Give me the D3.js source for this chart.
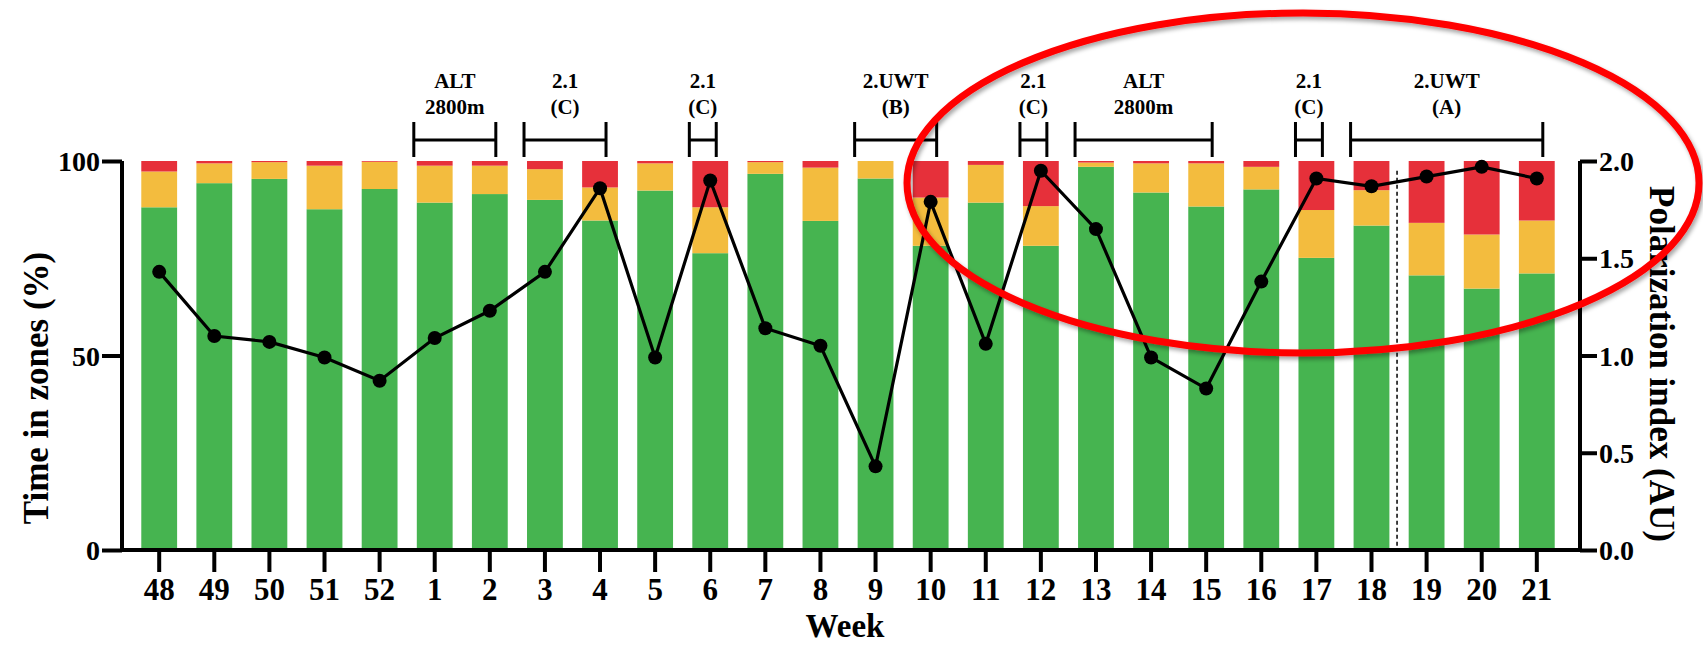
<!DOCTYPE html>
<html>
<head>
<meta charset="utf-8">
<script src="https://cdn.jsdelivr.net/npm/d3@7"></script>
<style>
  html, body { margin: 0; padding: 0; background: #fff; }
  svg { display: block; font-family: "Liberation Serif", "Times New Roman", serif; font-weight: bold; }
</style>
</head>
<body>
<div id="chart"></div>
<script>
// weeks on the x axis
var weeks = ["48", "49", "50", "51", "52", "1", "2", "3", "4", "5", "6", "7", "8", "9", "10",
  "11", "12", "13", "14", "15", "16", "17", "18", "19", "20", "21"];

// time in zones (%), stacked from the bottom
var zoneLow = [88.1, 94.3, 95.4, 87.6, 92.8, 89.3, 91.5, 90.0, 84.7, 92.4, 76.3, 96.7, 84.6,
  95.5, 78.2, 89.3, 78.2, 98.5, 91.9, 88.3, 92.7, 75.1, 83.4, 70.6, 67.2, 71.1];
var zoneMid = [9.2, 5.1, 4.3, 11.2, 7.0, 9.5, 7.3, 7.9, 8.5, 7.0, 11.8, 3.0, 13.7,
  4.5, 12.4, 9.7, 10.2, 1.1, 7.5, 11.1, 5.8, 12.3, 9.1, 13.5, 13.9, 13.6];
var zoneHigh = [2.7, 0.6, 0.3, 1.2, 0.2, 1.2, 1.2, 2.1, 6.8, 0.6, 11.9, 0.3, 1.7,
  0.0, 9.4, 1.0, 11.6, 0.4, 0.6, 0.6, 1.5, 12.6, 7.5, 15.9, 18.9, 15.3];

// polarization index (AU), right axis
var polarization = [1.43, 1.10, 1.07, 0.99, 0.87, 1.09, 1.23, 1.43, 1.86, 0.99, 1.90, 1.14, 1.05,
  0.43, 1.79, 1.06, 1.95, 1.65, 0.99, 0.83, 1.38, 1.91, 1.87, 1.92, 1.97, 1.91];

var leftTicks = [0, 50, 100];
var rightTicks = [0, 0.5, 1.0, 1.5, 2.0];

// training blocks above the bars
var blockTop = ["ALT", "2.1", "2.1", "2.UWT", "2.1", "ALT", "2.1", "2.UWT"];
var blockBottom = ["2800m", "(C)", "(C)", "(B)", "(C)", "2800m", "(C)", "(A)"];
var blockFrom = ["1", "3", "6", "9", "12", "13", "17", "18"];
var blockTo = ["2", "4", "6", "10", "12", "15", "17", "21"];

var dividerAfter = "18";

var colors = { low: "#46b450", mid: "#f3bc3e", high: "#e6303a" };

var width = 1703, height = 648;
var plotLeft = 122, plotRight = 1580, plotTop = 161, plotBottom = 550;

var svg = d3.select("#chart").append("svg")
  .attr("width", width).attr("height", height);

var x = d3.scaleBand().domain(weeks).range([plotLeft, 1574]).paddingInner(0.35).paddingOuter(0.35);
var y = d3.scaleLinear().domain([0, 100]).range([plotBottom, plotTop]);
var y2 = d3.scaleLinear().domain([0, 2]).range([plotBottom, plotTop]);

var rows = weeks.map(function (w, i) {
  return { week: w, low: zoneLow[i], mid: zoneMid[i], high: zoneHigh[i], pi: polarization[i] };
});

var stack = d3.stack().keys(["low", "mid", "high"]);
var layers = stack(rows);

svg.append("g").selectAll("g").data(layers).join("g")
  .attr("fill", function (d) { return colors[d.key]; })
  .selectAll("rect").data(function (d) { return d; }).join("rect")
  .attr("x", function (d) { return x(d.data.week); })
  .attr("width", x.bandwidth())
  .attr("y", function (d) { return y(d[1]); })
  .attr("height", function (d) { return y(d[0]) - y(d[1]); });

// dashed divider between weeks 18 and 19
var gap = x.step() - x.bandwidth();
var divX = x(dividerAfter) + x.bandwidth() + gap / 2 - 2;
svg.append("line")
  .attr("x1", divX).attr("x2", divX)
  .attr("y1", y(97.5)).attr("y2", plotBottom)
  .attr("stroke", "#111").attr("stroke-width", 1.6)
  .attr("stroke-dasharray", "4,3");

// polarization line
var line = d3.line()
  .x(function (d) { return x(d.week) + x.bandwidth() / 2; })
  .y(function (d) { return y2(d.pi); });

svg.append("path").datum(rows)
  .attr("fill", "none").attr("stroke", "#000").attr("stroke-width", 3.2)
  .attr("d", line);

svg.append("g").selectAll("circle").data(rows).join("circle")
  .attr("cx", function (d) { return x(d.week) + x.bandwidth() / 2; })
  .attr("cy", function (d) { return y2(d.pi); })
  .attr("r", 7)
  .attr("fill", "#000");

// axes
var axisLeft = svg.append("g")
  .attr("transform", "translate(" + plotLeft + ",0)")
  .call(d3.axisLeft(y).tickValues(leftTicks).tickSize(20).tickSizeOuter(0).tickPadding(2));

var axisRight = svg.append("g")
  .attr("transform", "translate(" + plotRight + ",0)")
  .call(d3.axisRight(y2).tickValues(rightTicks).tickSize(17).tickSizeOuter(0).tickPadding(2)
    .tickFormat(d3.format(".1f")));

var axisBottom = svg.append("g")
  .attr("transform", "translate(0," + plotBottom + ")")
  .call(d3.axisBottom(x).tickSize(22).tickSizeOuter(0).tickPadding(6));

[axisLeft, axisRight, axisBottom].forEach(function (g) {
  g.select(".domain").remove();
  g.selectAll(".tick line").attr("stroke", "#000").attr("stroke-width", 4);
  g.selectAll("text").attr("fill", "#000")
    .style("font-family", "'Liberation Serif', serif").style("font-weight", "bold");
});
axisLeft.selectAll("text").style("font-size", "28px").attr("dy", "0.34em");
axisRight.selectAll("text").style("font-size", "28px").attr("dy", "0.34em");
axisBottom.selectAll("text").style("font-size", "31px");

// axis lines
svg.append("path")
  .attr("d", "M" + plotLeft + "," + plotTop + "V" + plotBottom + "H" + plotRight + "V" + plotTop)
  .attr("fill", "none").attr("stroke", "#000").attr("stroke-width", 4)
  .attr("stroke-linejoin", "miter");

// titles
svg.append("text")
  .attr("transform", "translate(48,388) rotate(-90)")
  .attr("text-anchor", "middle")
  .style("font-size", "35px")
  .text("Time in zones (%)");

svg.append("text")
  .attr("transform", "translate(1650,364) rotate(90)")
  .attr("text-anchor", "middle")
  .style("font-size", "35px")
  .text("Polarization index (AU)");

svg.append("text")
  .attr("x", 845).attr("y", 637)
  .attr("text-anchor", "middle")
  .style("font-size", "33px")
  .text("Week");

// block brackets
var blocks = blockTop.map(function (t, i) {
  return { top: t, bottom: blockBottom[i], from: blockFrom[i], to: blockTo[i] };
});

var blockG = svg.append("g").selectAll("g").data(blocks).join("g");

blockG.each(function (d) {
  var g = d3.select(this);
  var x1 = x(d.from) - 3;
  var x2 = x(d.to) + x.bandwidth() / 2 + 6;
  var mid = (x1 + x2) / 2;
  g.append("path")
    .attr("d", "M" + x1 + ",122V157M" + x1 + ",140H" + x2 + "M" + x2 + ",122V157")
    .attr("fill", "none").attr("stroke", "#000").attr("stroke-width", 3);
  g.append("text").attr("x", mid).attr("y", 88)
    .attr("text-anchor", "middle").style("font-size", "21px").text(d.top);
  g.append("text").attr("x", mid).attr("y", 114)
    .attr("text-anchor", "middle").style("font-size", "21px").text(d.bottom);
});

// red highlight ellipse
var defs = svg.append("defs");
var shadow = defs.append("filter").attr("id", "shadow")
  .attr("x", "-10%").attr("y", "-10%").attr("width", "120%").attr("height", "120%");
shadow.append("feDropShadow")
  .attr("dx", 2).attr("dy", 3).attr("stdDeviation", 2)
  .attr("flood-color", "#000").attr("flood-opacity", 0.35);

svg.append("ellipse")
  .attr("cx", 1303).attr("cy", 183)
  .attr("rx", 396).attr("ry", 170)
  .attr("fill", "none").attr("stroke", "#ff0000").attr("stroke-width", 7)
  .attr("filter", "url(#shadow)");
</script>
</body>
</html>
